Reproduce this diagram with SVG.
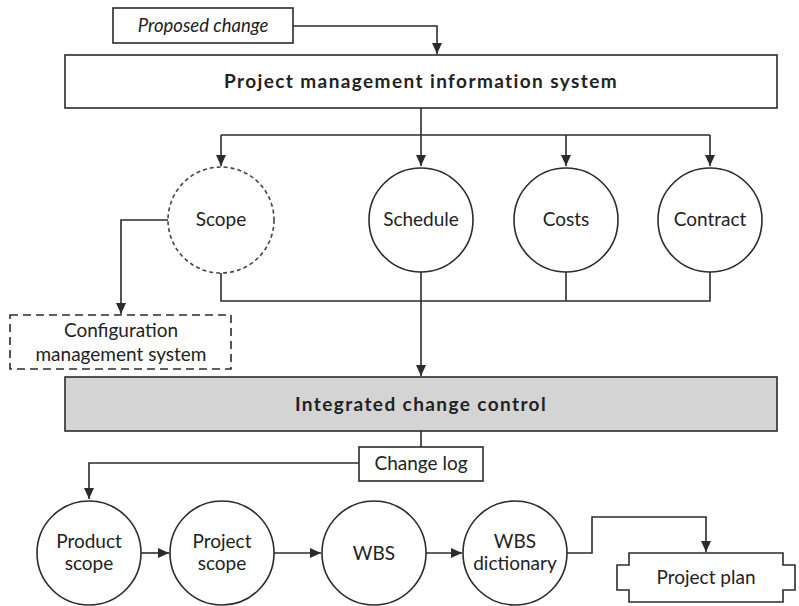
<svg xmlns="http://www.w3.org/2000/svg" width="799" height="606" viewBox="0 0 799 606">
<style>
.ln{fill:none;stroke:#2b2b2b;stroke-width:1.6}
.box{fill:#fff;stroke:#2b2b2b;stroke-width:1.6}
.gray{fill:#d4d4d4;stroke:#2b2b2b;stroke-width:1.6}
.dash{fill:#fff;stroke:#2b2b2b;stroke-width:1.6;stroke-dasharray:8 5}
.cdash{fill:#fff;stroke:#444;stroke-width:1.6;stroke-dasharray:4 3}
.t{font-family:Lato,"Open Sans",sans-serif;font-size:19px;fill:#222;text-anchor:middle}
.b{font-weight:bold;letter-spacing:1.4px}
.i{font-style:italic;font-size:18.5px}
</style>
<defs>
<marker id="ah" markerUnits="userSpaceOnUse" markerWidth="12" markerHeight="12" viewBox="0 0 12 12" refX="11" refY="6" orient="auto">
<path d="M0,1 L11,6 L0,11 Z" fill="#2b2b2b"/>
</marker>
</defs>
<g id="connectors">
<path class="ln" d="M293,26 H437 V54" marker-end="url(#ah)"/>
<path class="ln" d="M421,108 V166" marker-end="url(#ah)"/>
<path class="ln" d="M221,135 H710"/>
<path class="ln" d="M221,135 V166" marker-end="url(#ah)"/>
<path class="ln" d="M566,135 V166" marker-end="url(#ah)"/>
<path class="ln" d="M710,135 V166" marker-end="url(#ah)"/>
<path class="ln" d="M221,273 V301 H710 V272"/>
<path class="ln" d="M566,272 V301"/>
<path class="ln" d="M421,272 V376" marker-end="url(#ah)"/>
<path class="ln" d="M168,220 H121 V314" marker-end="url(#ah)"/>
<path class="ln" d="M421,431 V447"/>
<path class="ln" d="M359,463 H89 V499" marker-end="url(#ah)"/>
<path class="ln" d="M141,553 H169" marker-end="url(#ah)"/>
<path class="ln" d="M274,553 H321" marker-end="url(#ah)"/>
<path class="ln" d="M426,553 H462" marker-end="url(#ah)"/>
<path class="ln" d="M567,553 H592 V517 H706 V552" marker-end="url(#ah)"/>
</g>
<g id="proposed-change">
<rect class="box" x="113" y="8" width="180" height="35"/>
<text class="t i" x="203" y="32">Proposed change</text>
</g>
<g id="pmis">
<rect class="box" x="65" y="55" width="712" height="53"/>
<text class="t b" x="421" y="88">Project management information system</text>
</g>
<g id="scope">
<circle class="cdash" cx="221" cy="220" r="53"/>
<text class="t" x="221" y="226">Scope</text>
</g>
<g id="schedule">
<circle class="box" cx="421" cy="220" r="52"/>
<text class="t" x="421" y="226">Schedule</text>
</g>
<g id="costs">
<circle class="box" cx="566" cy="220" r="52"/>
<text class="t" x="566" y="226">Costs</text>
</g>
<g id="contract">
<circle class="box" cx="710" cy="220" r="52"/>
<text class="t" x="710" y="226">Contract</text>
</g>
<g id="config">
<rect class="dash" x="10" y="315" width="221" height="54"/>
<text class="t" x="121" y="337">Configuration</text>
<text class="t" x="121" y="361">management system</text>
</g>
<g id="icc">
<rect class="gray" x="65" y="377" width="712" height="54"/>
<text class="t b" x="421" y="411">Integrated change control</text>
</g>
<g id="change-log">
<rect class="box" x="359" y="447" width="124" height="34"/>
<text class="t" x="421" y="470">Change log</text>
</g>
<g id="product-scope">
<circle class="box" cx="89" cy="553" r="52"/>
<text class="t" x="89" y="548">Product</text>
<text class="t" x="89" y="570">scope</text>
</g>
<g id="project-scope">
<circle class="box" cx="222" cy="553" r="52"/>
<text class="t" x="222" y="548">Project</text>
<text class="t" x="222" y="570">scope</text>
</g>
<g id="wbs">
<circle class="box" cx="374" cy="553" r="52"/>
<text class="t" x="374" y="560">WBS</text>
</g>
<g id="wbs-dictionary">
<circle class="box" cx="515" cy="553" r="52"/>
<text class="t" x="515" y="548">WBS</text>
<text class="t" x="515" y="570">dictionary</text>
</g>
<g id="project-plan">
<path class="box" d="M629,553 H783 V565 H795 V590 H783 V602 H629 V590 H617 V565 H629 Z"/>
<text class="t" x="706" y="584">Project plan</text>
</g>
</svg>
